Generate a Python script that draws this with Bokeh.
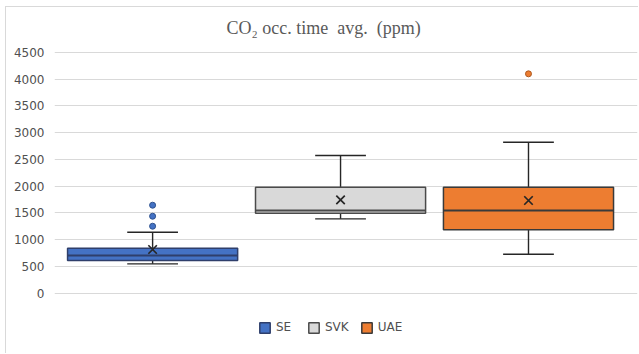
from bokeh.plotting import figure
from bokeh.models import Range1d, FixedTicker, Legend, LegendItem, Label
from bokeh.embed import file_html
from bokeh.resources import INLINE

# ---- data ----
title_text = "CO\u2082 occ. time\u00a0 avg.\u00a0 (ppm)"
groups = ["SE", "SVK", "UAE"]
whisker_low = [549, 1390, 729]
q1 = [611, 1495, 1185]
median = [705, 1546, 1546]
q3 = [841, 1981, 1981]
whisker_high = [1140, 2574, 2822]
means = [817, 1746, 1733]
outlier_groups = ["SE", "SE", "SE", "UAE"]
outlier_values = [1252, 1439, 1645, 4101]
y_ticks = [0, 500, 1000, 1500, 2000, 2500, 3000, 3500, 4000, 4500]

fills = ["#4472C4", "#D9D9D9", "#ED7D31"]
edges = ["#2F3F6B", "#4A4A4A", "#3A3A3A"]
dot_edges = ["#2F528F", "#4A4A4A", "#AE5A21"]

xpos = [i + 1 for i in range(len(groups))]
box_w = 0.905
cap_w = 0.27

# frame spans the whole chart height so the title and legend can sit inside it
p = figure(width=633, height=347, output_backend="svg", toolbar_location=None,
           x_range=Range1d(0.478, 3.58), y_range=Range1d(-1146, 5341),
           min_border_left=48, min_border_right=2, min_border_top=0,
           min_border_bottom=0)
p.margin = (6, 0, 0, 5)
p.styles = {"border-top": "1px solid #d9d9d9", "border-left": "1px solid #d9d9d9"}
p.outline_line_color = None
p.background_fill_color = "white"
p.border_fill_color = "white"

p.add_layout(Label(x=1.91, y=4950, text=title_text, text_align="center",
                   text_baseline="middle", text_font="Liberation Serif",
                   text_font_size="18px", text_color="#595959"))

p.xaxis.visible = False
p.xgrid.visible = False
p.ygrid.grid_line_color = "#d9d9d9"
p.ygrid.ticker = FixedTicker(ticks=y_ticks)
p.yaxis.ticker = FixedTicker(ticks=y_ticks)
p.yaxis.axis_line_color = None
p.yaxis.major_tick_line_color = None
p.yaxis.minor_tick_line_color = None
p.yaxis.major_tick_out = 0
p.yaxis.major_tick_in = 0
p.yaxis.major_label_standoff = 10
p.yaxis.major_label_text_font = "DejaVu Sans"
p.yaxis.major_label_text_font_size = "12px"
p.yaxis.major_label_text_color = "#505050"

items = []
for i, g in enumerate(groups):
    x = xpos[i]
    # whiskers
    p.segment(x0=[x, x], y0=[q3[i], q1[i]], x1=[x, x], y1=[whisker_high[i], whisker_low[i]],
              line_color="#262626", line_width=1.4)
    p.segment(x0=[x - cap_w / 2, x - cap_w / 2], y0=[whisker_high[i], whisker_low[i]],
              x1=[x + cap_w / 2, x + cap_w / 2], y1=[whisker_high[i], whisker_low[i]],
              line_color="#262626", line_width=1.4)
    r = p.vbar(x=[x], width=box_w, bottom=[q1[i]], top=[q3[i]],
               fill_color=fills[i], line_color=edges[i], line_width=1.5)
    items.append(LegendItem(label=g, renderers=[r]))
    p.segment(x0=[x - box_w / 2], y0=[median[i]], x1=[x + box_w / 2], y1=[median[i]],
              line_color=edges[i], line_width=1.8)
    p.scatter(x=[x], y=[means[i]], marker="x", size=12, line_color="#262626", line_width=1.7)
    ox = [x for og, ov in zip(outlier_groups, outlier_values) if og == g]
    oy = [ov for og, ov in zip(outlier_groups, outlier_values) if og == g]
    if ox:
        p.scatter(x=ox, y=oy, marker="circle", size=6, fill_color=fills[i],
                  line_color=dot_edges[i], line_width=1)

legend = Legend(items=items, location=(204, 20), orientation="horizontal",
                background_fill_alpha=0, border_line_alpha=0,
                glyph_width=13, glyph_height=13, label_standoff=5, spacing=11,
                padding=0, margin=0,
                label_text_font="DejaVu Sans", label_text_font_size="12px",
                label_text_color="#505050")
p.add_layout(legend, "center")

open("out.html", "w").write(file_html(p, INLINE))
